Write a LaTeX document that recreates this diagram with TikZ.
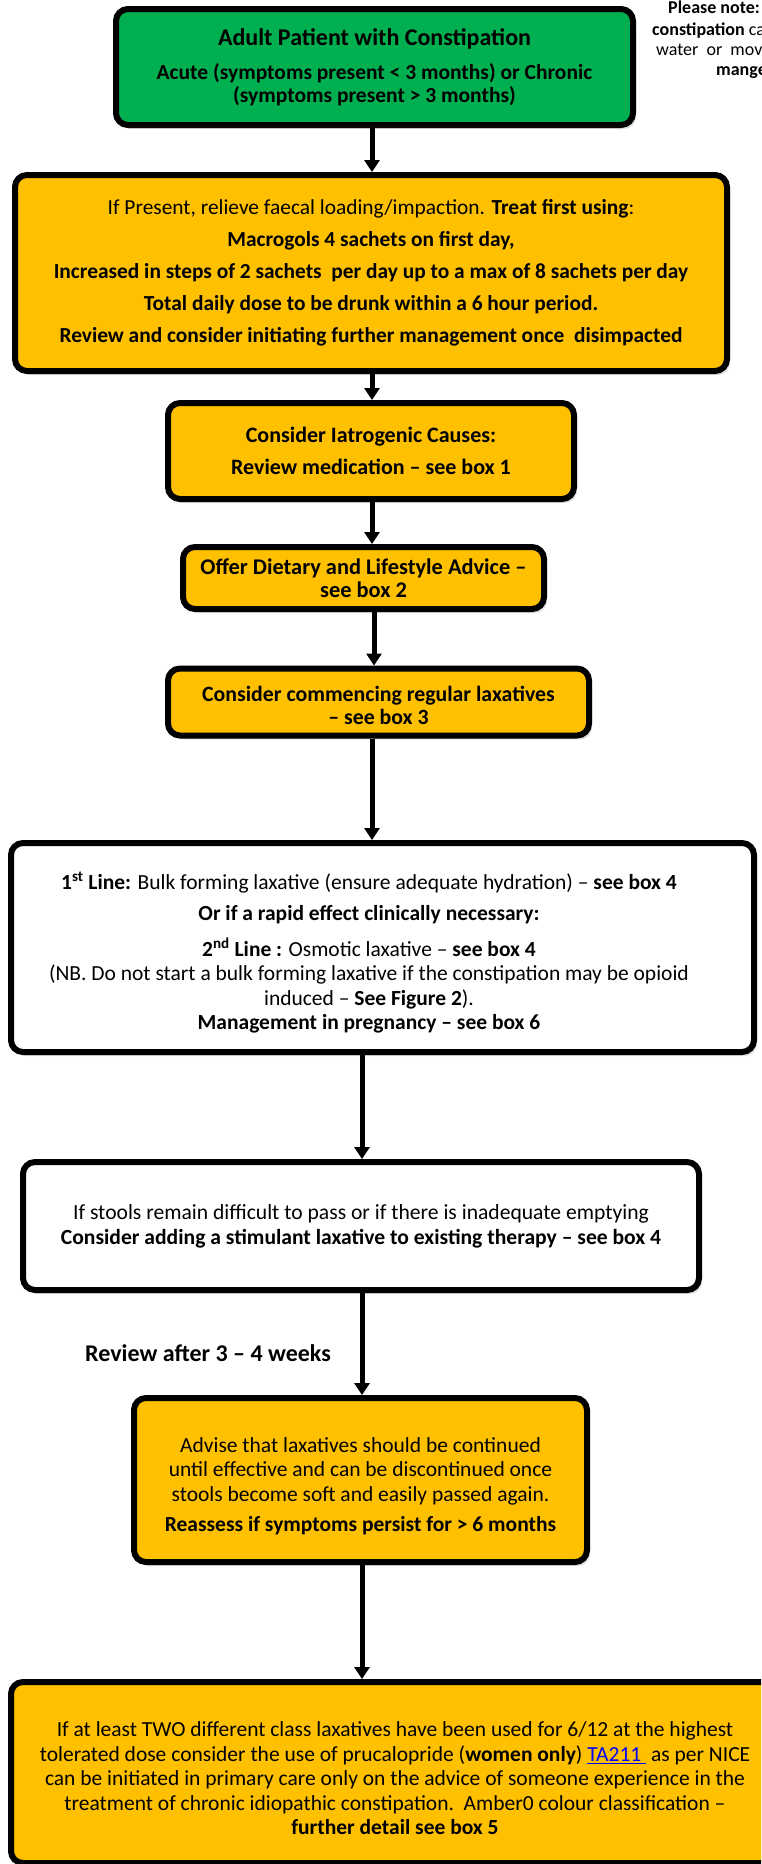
\documentclass[tikz,border=0pt]{standalone}
\usepackage{fontspec}
\setmainfont{Carlito}
\usetikzlibrary{arrows.meta,shadows}
\definecolor{boxgreen}{HTML}{00B050}
\definecolor{boxamber}{HTML}{FFC000}
\definecolor{linkblue}{HTML}{0000FF}
\begin{document}
\begin{tikzpicture}[x=1pt,y=-1pt,
  box/.style={draw=black, line width=6pt, rounded corners=12pt, align=center,
    inner sep=0pt, drop shadow={shadow xshift=3pt,shadow yshift=-4pt,opacity=0.25}},
  greenbox/.style={box, fill=boxgreen},
  amberbox/.style={box, fill=boxamber},
  whitebox/.style={box, fill=white},
  boxtext/.style={align=center, inner sep=0pt},
  arr/.style={line width=5pt, -{Triangle[width=15pt,length=12pt]}},
  notetext/.style={anchor=base west, inner sep=0pt, font=\fontsize{18}{20}\selectfont},
  lbl/.style={anchor=base west, inner sep=0pt, font=\fontsize{24}{28}\selectfont\bfseries}
]
\useasboundingbox (0,0) rectangle (761,1864);
\clip (0,0) rectangle (761,1864);

% boxes
\node[greenbox, minimum width=517pt, minimum height=116pt,
  font=\fontsize{21.5}{23}\selectfont\bfseries] (b1) at (374.5,67)
  {{\fontsize{24}{26}\selectfont Adult Patient with Constipation}\\[11pt]
   Acute (symptoms present < 3 months) or Chronic\\
   (symptoms present > 3 months)};

\node[amberbox, minimum width=712pt, minimum height=196pt,
  font=\fontsize{21.4}{32}\selectfont] (b2) at (371,273)
  {If Present, relieve faecal loading/impaction. \textbf{Treat first using}:\\
   \textbf{Macrogols 4 sachets on first day,}\\
   \textbf{Increased in steps of 2 sachets\ \ per day up to a max of 8 sachets per day}\\
   \textbf{Total daily dose to be drunk within a 6 hour period.}\\
   \textbf{Review and consider initiating further management once\ \ disimpacted}};

\node[amberbox, minimum width=406pt, minimum height=96pt,
  font=\fontsize{22}{32}\selectfont\bfseries] (b3) at (371,451)
  {Consider Iatrogenic Causes:\\
   Review medication – see box 1};

\node[amberbox, minimum width=361pt, minimum height=62pt,
  font=\fontsize{22.4}{23}\selectfont\bfseries] (b4) at (363.5,578)
  {Offer Dietary and Lifestyle Advice –\\ see box 2};

\node[amberbox, minimum width=421pt, minimum height=67pt,
  font=\fontsize{21.8}{23}\selectfont\bfseries] (b5) at (378.5,702)
  {\rule{0pt}{23pt}Consider commencing regular laxatives\\ – see box 3};

\node[whitebox, minimum width=743pt, minimum height=209pt] (b6) at (382.5,947.5) {};
\node[boxtext, font=\fontsize{21.5}{24.5}\selectfont] (b6t) at (369,953)
  {\textbf{1\textsuperscript{st} Line:} Bulk forming laxative (ensure adequate hydration) – \textbf{see box 4}\\[7pt]
   \textbf{Or if a rapid effect clinically necessary:}\\[11pt]
   \textbf{2\textsuperscript{nd} Line :} Osmotic laxative – \textbf{see box 4}\\
   (NB. Do not start a bulk forming laxative if the constipation may be opioid\\
   induced – \textbf{See Figure 2}).\\
   \textbf{Management in pregnancy – see box 6}};

\node[whitebox, minimum width=676pt, minimum height=128pt,
  font=\fontsize{21.6}{25}\selectfont] (b7) at (361,1226)
  {If stools remain difficult to pass or if there is inadequate emptying\\
   \textbf{Consider adding a stimulant laxative to existing therapy – see box 4}};

\node[amberbox, minimum width=453pt, minimum height=164pt,
  font=\fontsize{21.5}{24.5}\selectfont] (b8) at (360.5,1480)
  {\rule{0pt}{27pt}Advise that laxatives should be continued\\
   until effective and can be discontinued once\\
   stools become soft and easily passed again.\\[6pt]
   \textbf{Reassess if symptoms persist for > 6 months}};

\node[amberbox, minimum width=768pt, minimum height=181pt,
  font=\fontsize{21.5}{24.5}\selectfont] (b9) at (395,1772.5)
  {\rule{0pt}{27pt}If at least TWO different class laxatives have been used for 6/12 at the highest\\
   tolerated dose consider the use of prucalopride (\textbf{women only}) \textcolor{linkblue}{\underline{TA211\ }} as per NICE\\
   can be initiated in primary care only on the advice of someone experience in the\\
   treatment of chronic idiopathic constipation.\ \ Amber0 colour classification –\\
   \textbf{further detail see box 5}};

% label
\node[lbl] (rev) at (85,1361) {Review after 3 – 4 weeks};

% note (cut at the right edge, as in the reference)
\node[notetext] (n1) at (668,13) {\textbf{Please note:}};
\node[notetext] (n2) at (652,35) {\textbf{constipation} ca};
\node[notetext] (n3) at (656,55) {water\ \ or\ \ move};
\node[notetext] (n4) at (716,75) {\textbf{mange}};

% connectors
\coordinate (ax) at (372,0);
\coordinate (ay) at (374,0);
\coordinate (az) at (362,0);
\draw[arr] (b1.south -| ax) -- (b2.north -| ax);
\draw[arr] (b2.south -| ax) -- (b3.north -| ax);
\draw[arr] (b3.south -| ax) -- (b4.north -| ax);
\draw[arr] (b4.south -| ay) -- (b5.north -| ay);
\draw[arr] (b5.south -| ax) -- (b6.north -| ax);
\draw[arr] (b6.south -| az) -- (b7.north -| az);
\draw[arr] (b7.south -| az) -- (b8.north -| az);
\draw[arr] (b8.south -| az) -- (b9.north -| az);
\end{tikzpicture}
\end{document}
